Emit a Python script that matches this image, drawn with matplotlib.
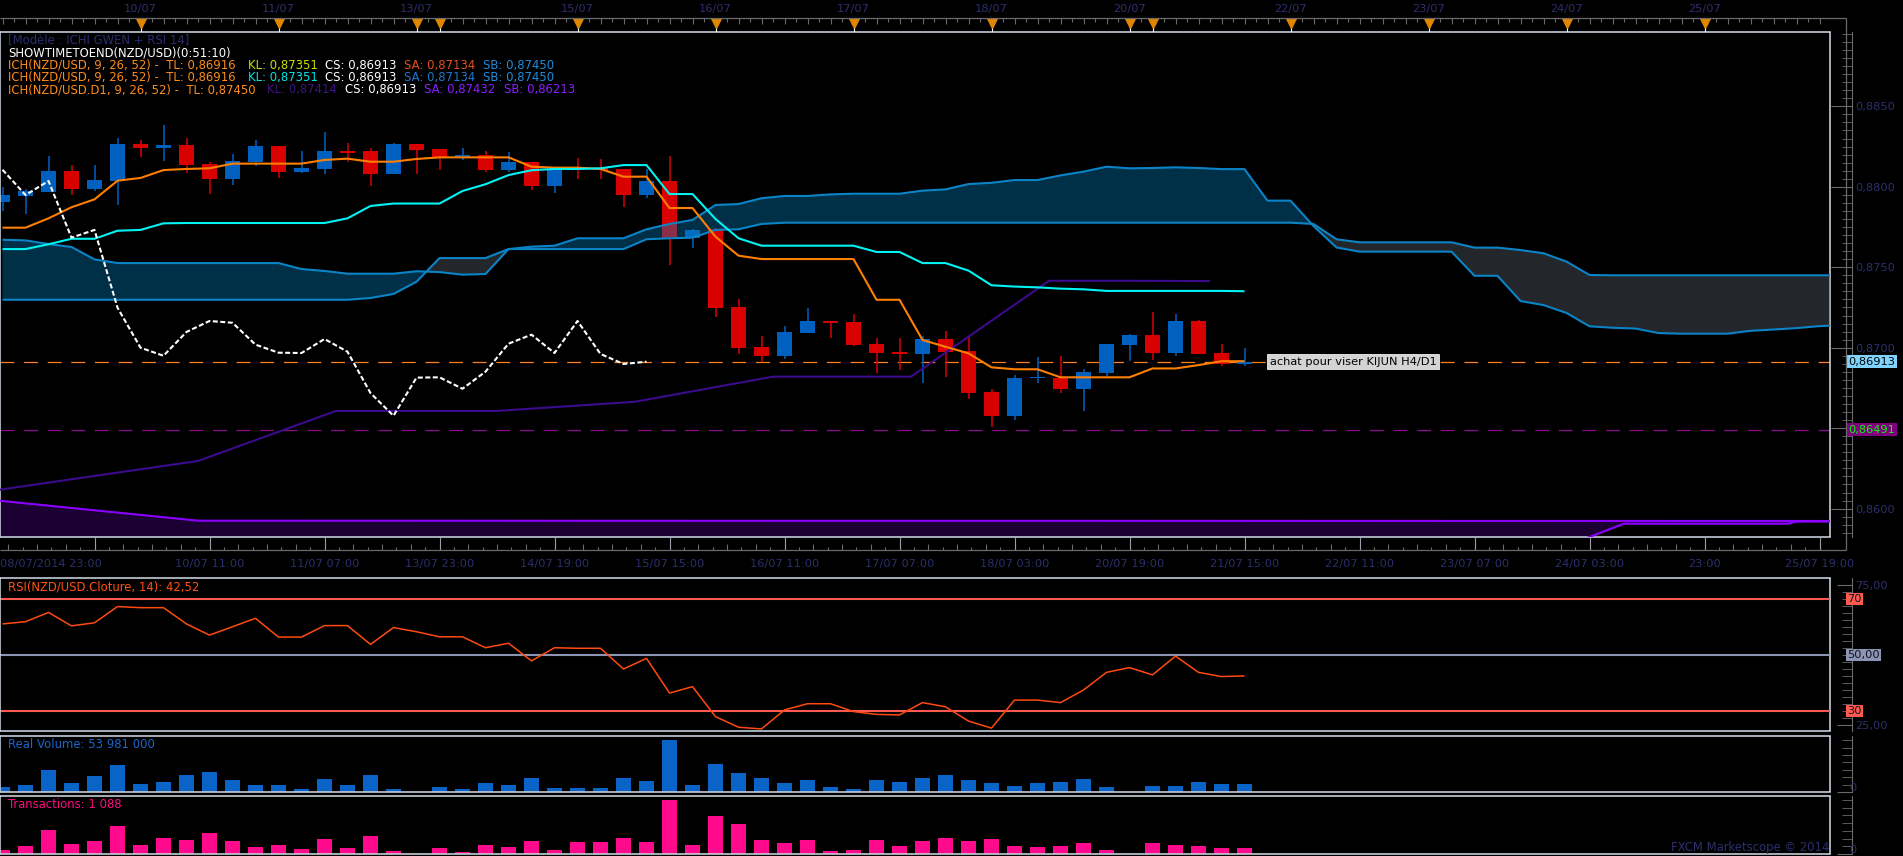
import numpy as np
import matplotlib
matplotlib.use("Agg")
import matplotlib.pyplot as plt
from matplotlib.lines import Line2D
from matplotlib.ticker import MultipleLocator, FixedLocator, FuncFormatter, NullFormatter

W, H = 1903, 856

# ---- data (H4 NZD/USD bars 08/07/2014 23:00 -> 21/07 15:00) ----
opens = [0.87907, 0.87945, 0.87970, 0.88098, 0.87986, 0.88038, 0.88266, 0.88243, 0.88260, 0.88142,
         0.88048, 0.88154, 0.88254, 0.88092, 0.88111, 0.88218, 0.88222, 0.88080, 0.88266, 0.88235,
         0.88185, 0.88198, 0.88104, 0.88154, 0.88005, 0.88110, 0.88110, 0.88111, 0.87949, 0.88036,
         0.87684, 0.87740, 0.87253, 0.87004, 0.86950, 0.87093, 0.87166, 0.87160, 0.87023, 0.86972,
         0.86963, 0.87054, 0.86979, 0.86724, 0.86577, 0.86814, 0.86814, 0.86745, 0.86845, 0.87019,
         0.87079, 0.86967, 0.87166, 0.86967, 0.86899]
highs = [0.87997, 0.87984, 0.88191, 0.88134, 0.88135, 0.88303, 0.88289, 0.88384, 0.88303, 0.88154,
         0.88204, 0.88291, 0.88256, 0.88222, 0.88341, 0.88274, 0.88241, 0.88270, 0.88268, 0.88237,
         0.88241, 0.88222, 0.88216, 0.88156, 0.88106, 0.88179, 0.88173, 0.88113, 0.88111, 0.88191,
         0.87740, 0.87742, 0.87303, 0.87073, 0.87135, 0.87247, 0.87168, 0.87209, 0.87060, 0.87060,
         0.87073, 0.87104, 0.87067, 0.86743, 0.86830, 0.86944, 0.86948, 0.86870, 0.87025, 0.87083,
         0.87222, 0.87209, 0.87172, 0.87023, 0.86998]
lows = [0.87851, 0.87833, 0.87965, 0.87951, 0.87976, 0.87889, 0.88185, 0.88160, 0.88088, 0.87955,
        0.88011, 0.88129, 0.88055, 0.88086, 0.88080, 0.88156, 0.88005, 0.88080, 0.88080, 0.88104,
        0.88167, 0.88092, 0.88092, 0.87980, 0.87961, 0.88048, 0.88048, 0.87874, 0.87930, 0.87514,
        0.87622, 0.87193, 0.86963, 0.86913, 0.86932, 0.87090, 0.87062, 0.87012, 0.86845, 0.86863,
        0.86782, 0.86820, 0.86683, 0.86509, 0.86553, 0.86782, 0.86720, 0.86608, 0.86826, 0.86919,
        0.86924, 0.86948, 0.86961, 0.86886, 0.86886]
closes = [0.87949, 0.87972, 0.88098, 0.87986, 0.88042, 0.88266, 0.88243, 0.88260, 0.88135, 0.88048,
          0.88160, 0.88254, 0.88092, 0.88117, 0.88222, 0.88214, 0.88080, 0.88266, 0.88229, 0.88185,
          0.88198, 0.88104, 0.88154, 0.88005, 0.88104, 0.88106, 0.88106, 0.87949, 0.88036, 0.87684,
          0.87732, 0.87249, 0.87000, 0.86950, 0.87098, 0.87166, 0.87155, 0.87019, 0.86969, 0.86967,
          0.87054, 0.86975, 0.86718, 0.86577, 0.86814, 0.86816, 0.86745, 0.86851, 0.87025, 0.87081,
          0.86967, 0.87166, 0.86961, 0.86899, 0.86913]

tenkan = [0.87746, 0.87746, 0.87804, 0.87873, 0.87922, 0.88038, 0.88055, 0.88104, 0.88111, 0.88115,
          0.88144, 0.88144, 0.88144, 0.88144, 0.88167, 0.88175, 0.88156, 0.88156, 0.88173, 0.88183,
          0.88183, 0.88183, 0.88183, 0.88125, 0.88119, 0.88119, 0.88111, 0.88063, 0.88063, 0.87868,
          0.87868, 0.87690, 0.87572, 0.87551, 0.87551, 0.87551, 0.87551, 0.87551, 0.87298, 0.87298,
          0.87048, 0.87006, 0.86965, 0.86878, 0.86866, 0.86866, 0.86816, 0.86816, 0.86816, 0.86816,
          0.86871, 0.86871, 0.86892, 0.86916, 0.86916]
kijun = [0.87613, 0.87613, 0.87643, 0.87677, 0.87677, 0.87727, 0.87732, 0.87773, 0.87775, 0.87775,
         0.87775, 0.87775, 0.87775, 0.87775, 0.87775, 0.87804, 0.87881, 0.87896, 0.87896, 0.87896,
         0.87974, 0.88016, 0.88073, 0.88103, 0.88111, 0.88111, 0.88115, 0.88135, 0.88135, 0.87955,
         0.87955, 0.87800, 0.87680, 0.87634, 0.87634, 0.87634, 0.87634, 0.87634, 0.87595, 0.87595,
         0.87526, 0.87526, 0.87479, 0.87388, 0.87380, 0.87375, 0.87367, 0.87363, 0.87353, 0.87353,
         0.87353, 0.87353, 0.87353, 0.87353, 0.87351]
# senkou spans, already displaced 26 bars forward (bars 0..80)
span_a = [0.87671, 0.87667, 0.87644, 0.87626, 0.87549, 0.87526, 0.87526, 0.87526, 0.87526, 0.87526,
          0.87526, 0.87526, 0.87526, 0.87489, 0.87477, 0.87460, 0.87460, 0.87460, 0.87475, 0.87470,
          0.87454, 0.87458, 0.87613, 0.87628, 0.87634, 0.87680, 0.87680, 0.87680, 0.87736, 0.87769,
          0.87794, 0.87887, 0.87893, 0.87929, 0.87943, 0.87943, 0.87953, 0.87957, 0.87957, 0.87957,
          0.87976, 0.87984, 0.88017, 0.88025, 0.88042, 0.88042, 0.88071, 0.88094, 0.88125, 0.88115,
          0.88117, 0.88121, 0.88117, 0.88110, 0.88110, 0.87914, 0.87914, 0.87756, 0.87623, 0.87597,
          0.87597, 0.87597, 0.87597, 0.87597, 0.87447, 0.87447, 0.87290, 0.87265, 0.87216, 0.87133,
          0.87124, 0.87119, 0.87091, 0.87087, 0.87087, 0.87087, 0.87105, 0.87113, 0.87122, 0.87134,
          0.87140]
span_b = [0.87298] * 16 + [0.87309, 0.87334, 0.87410, 0.87557, 0.87557, 0.87557, 0.87613] \
    + [0.87613] * 5 + [0.87674, 0.87680, 0.87684, 0.87732, 0.87736, 0.87769] + [0.87777] * 23 \
    + [0.87769, 0.87674] + [0.87655] * 5 + [0.87622, 0.87622, 0.87607, 0.87587, 0.87535, 0.87452] \
    + [0.87450] * 11

# D1 ichimoku, points at the middle of each trading day (bar units)
d1_kijun_x = [-3.5, 2.5, 8.5, 14.5, 18, 21.5, 27.5, 33.5, 39.5, 45.5, 49, 52.5]
d1_kijun = [0.86047, 0.86172, 0.86296, 0.86607, 0.86607, 0.86607, 0.86664, 0.86820, 0.86820,
            0.87416, 0.87416, 0.87414]
d1_up_x = [-3.5, 2.5, 8.5, 81]
d1_up = [0.86098, 0.86011, 0.85925, 0.85923]
d1_lo_x = [-3.5, 64.5, 70.5, 77.6, 78.0, 81]
d1_lo = [0.85500, 0.85576, 0.85906, 0.85906, 0.85919, 0.85919]

last_close = 0.86913
support = 0.86491

rsi = [61.1, 61.9, 65.2, 60.4, 61.5, 67.3, 66.9, 66.9, 61.1, 57.1,
       60.1, 63.1, 56.4, 56.4, 60.5, 60.5, 53.8, 59.8, 58.3, 56.5,
       56.5, 52.6, 54.2, 47.9, 52.6, 52.4, 52.4, 45.0, 48.8, 36.4,
       38.7, 28.0, 24.2, 23.6, 30.4, 32.6, 32.6, 29.8, 28.8, 28.6,
       33.0, 31.5, 26.4, 23.9, 33.9, 33.9, 33.0, 37.5, 43.8, 45.5,
       42.9, 49.6, 43.8, 42.3, 42.52]
volume_m = [34, 47, 148, 61, 108, 182, 54, 67, 115, 135,
            81, 47, 47, 20, 88, 47, 115, 20, 0, 34,
            20, 61, 47, 94, 27, 27, 27, 94, 74, 351,
            47, 189, 128, 94, 61, 81, 34, 20, 81, 67,
            94, 115, 81, 61, 40, 61, 67, 88, 34, 0,
            40, 40, 67, 54, 54]
transactions = [725, 1450, 4350, 1813, 2357, 5077, 1632, 2901, 2538, 3808,
                2357, 1269, 1632, 907, 2720, 1088, 3264, 544, 0, 1088,
                363, 1632, 1269, 2357, 725, 2176, 2176, 2901, 2176, 9792,
                1632, 6891, 5440, 2538, 1995, 2538, 544, 725, 2538, 1450,
                2357, 2901, 2357, 2720, 1450, 1269, 1450, 1995, 725, 0,
                1995, 1632, 1450, 1088, 1088]

bottom_ticks = list(range(4, 80, 5))
bottom_labels = ["08/07/2014 23:00", "10/07 11:00", "11/07 07:00", "13/07 23:00", "14/07 19:00",
                 "15/07 15:00", "16/07 11:00", "17/07 07:00", "18/07 03:00", "20/07 19:00",
                 "21/07 15:00", "22/07 11:00", "23/07 07:00", "24/07 03:00", "23:00", "25/07 19:00"]
day_bars = [6, 12, 18, 19, 25, 31, 37, 43, 49, 50, 56, 62, 68, 74]
day_labels = ["10/07", "11/07", "13/07", "", "15/07", "16/07", "17/07", "18/07", "20/07", "",
              "22/07", "23/07", "24/07", "25/07"]

# ---- style ----
BG = '#000000'
FRAME = '#c4ccd8'
AXC = '#6a6a6a'
LAB = '#2e2e6e'
RED = '#d90000'
BLUE = '#0060c0'

plt.rcParams['font.family'] = 'DejaVu Sans'
plt.rcParams['lines.scale_dashes'] = False
plt.rcParams['lines.solid_capstyle'] = 'butt'


def px_rect(x0, y0, x1, y1):
    return [x0 / W, 1 - y1 / H, (x1 - x0) / W, (y1 - y0) / H]


def fig_text(x, y, s, color, size=8.4, ha='left'):
    fig.text(x / W, 1 - y / H, s, color=color, fontsize=size, ha=ha, va='center', zorder=20)


fig = plt.figure(figsize=(W / 100, H / 100), dpi=100, facecolor=BG)
XL = (-2.5 / 23, (1830 - 2.5) / 23)

ax = fig.add_axes(px_rect(0, 31.7, 1830, 537))
ax_rsi = fig.add_axes(px_rect(0, 578.3, 1830, 731))
ax_vol = fig.add_axes(px_rect(0, 736, 1830, 792))
ax_trn = fig.add_axes(px_rect(0, 796, 1830, 854))
ax_top = fig.add_axes(px_rect(0, 18, 1830, 31.7))
ax_bot = fig.add_axes(px_rect(0, 537, 1830, 550))


def style_panel(a, major_len=15):
    a.set_facecolor(BG)
    a.set_xlim(*XL)
    a.set_xticks([])
    for s in ['top', 'left', 'bottom']:
        a.spines[s].set_color(FRAME)
        a.spines[s].set_linewidth(1.2)
    a.spines['right'].set_position(('outward', 16))
    a.spines['right'].set_color(AXC)
    a.plot([1, 1], [0, 1], transform=a.transAxes, color=FRAME, lw=1.2, clip_on=False)
    a.yaxis.tick_right()
    a.tick_params(axis='y', which='both', direction='in', colors=AXC, labelcolor=LAB,
                  labelsize=8.2, pad=2)
    a.tick_params(axis='y', which='major', length=major_len)
    a.tick_params(axis='y', which='minor', length=7)


for a in (ax, ax_rsi, ax_vol, ax_trn):
    style_panel(a)

# ---- main price panel ----
bars = np.arange(len(closes))
o, h, l, c = map(np.array, (opens, highs, lows, closes))
cols = np.where(c >= o, BLUE, RED)
diff = np.abs(c - o)
body_h = np.maximum(diff, 0.00012)
body_lo = np.minimum(o, c) - (body_h - diff) / 2
ax.vlines(bars, l, h, colors=cols, lw=1.1, zorder=2)
ax.bar(bars, body_h, bottom=body_lo, width=0.61, color=cols, linewidth=0, zorder=2.1)

cx = np.arange(len(span_a))
A = np.array(span_a)
B = np.array(span_b)
ax.fill_between(cx, A, B, where=A >= B, interpolate=True, color='#0085c8', alpha=0.36, lw=0, zorder=3)
ax.fill_between(cx, A, B, where=A < B, interpolate=True, color='#626a76', alpha=0.36, lw=0, zorder=3)
ax.plot(cx, A, color='#0a84c6', lw=1.5, zorder=4)
ax.plot(cx, B, color='#0a84c6', lw=1.5, zorder=4)

gx = np.linspace(-3.5, 81, 1200)
ax.fill_between(gx, np.interp(gx, d1_up_x, d1_up), np.interp(gx, d1_lo_x, d1_lo),
                color='#1c0034', lw=0, zorder=1)
ax.plot(d1_up_x, d1_up, color='#8c00ff', lw=1.5, zorder=4)
ax.plot(d1_lo_x, d1_lo, color='#8c00ff', lw=1.5, zorder=4)
ax.plot(d1_kijun_x, d1_kijun, color='#3c0a8c', lw=1.5, zorder=4)

ax.axhline(last_close, color='#ff7f1e', lw=0.9, dashes=(10, 7), zorder=1.5)
ax.axhline(support, color='#8a0a8a', lw=0.9, dashes=(10, 7), zorder=1.5)

ax.plot(bars, tenkan, color='#ff8000', lw=1.5, zorder=5)
ax.plot(bars, kijun, color='#00f4f4', lw=1.5, zorder=5)
chikou = closes[26:]
ax.plot(np.arange(len(chikou)), chikou, color='white', lw=1.5, dashes=(3.6, 1.8), zorder=5)

ax.set_ylim(0.858235, 0.88964)
ax.yaxis.set_major_locator(MultipleLocator(0.005))
ax.yaxis.set_minor_locator(MultipleLocator(0.0005))
ax.yaxis.set_major_formatter(FuncFormatter(
    lambda v, p: '' if abs(v - 0.865) < 1e-6 else f'{v:.4f}'.replace('.', ',')))

ax.text(55.1, last_close, 'achat pour viser KIJUN H4/D1', fontsize=8.2, color='black',
        ha='left', va='center', zorder=10,
        bbox=dict(boxstyle='square,pad=0.22', fc='#d4d4d4', ec='#eeeeee', lw=0.6))

for val, fc, tc in ((last_close, '#7fd4ff', 'black'), (support, '#800080', '#00ff00')):
    ax.annotate(f'{val:.5f}'.replace('.', ','), xy=(1, val), xycoords=('axes fraction', 'data'),
                xytext=(13.2, 0), textcoords='offset points', ha='left', va='center',
                fontsize=8.2, color=tc, annotation_clip=False, zorder=12,
                bbox=dict(boxstyle='square,pad=0.12', fc=fc, ec='none'))

# ---- RSI panel ----
ax_rsi.plot(bars, rsi, color='#ff4a10', lw=1.1, zorder=4)
ax_rsi.axhline(70, color='#ff5a50', lw=1.5, zorder=2)
ax_rsi.axhline(30, color='#ff5a50', lw=1.5, zorder=2)
ax_rsi.axhline(50, color='#8c96b4', lw=1.5, zorder=2)
ax_rsi.set_ylim(22.86, 77.39)
ax_rsi.yaxis.set_major_locator(FixedLocator([25, 75]))
ax_rsi.yaxis.set_minor_locator(MultipleLocator(2.5))
ax_rsi.yaxis.set_major_formatter(FuncFormatter(lambda v, p: f'{v:.2f}'.replace('.', ',')))
ax_rsi.tick_params(axis='y', which='major', length=11)
for val, txt, fc in ((70, '70', '#ff5a50'), (50, '50,00', '#8c96b4'), (30, '30', '#ff5a50')):
    ax_rsi.annotate(txt, xy=(1, val), xycoords=('axes fraction', 'data'),
                    xytext=(12.4, 0), textcoords='offset points', ha='left', va='center',
                    fontsize=8.2, color='#101020', annotation_clip=False, zorder=12,
                    bbox=dict(boxstyle='square,pad=0.1', fc=fc, ec='none'))

# ---- volume / transactions ----
ax_vol.bar(bars, volume_m, width=0.61, color='#0a64c8', linewidth=0)
ax_vol.set_ylim(0, 378)
ax_vol.yaxis.set_minor_locator(MultipleLocator(50))

ax_trn.bar(bars, transactions, width=0.61, color='#ff0a8c', linewidth=0)
ax_trn.set_ylim(0, 10517)
ax_trn.yaxis.set_minor_locator(MultipleLocator(1400))
for a in (ax_vol, ax_trn):
    a.yaxis.set_major_locator(FixedLocator([0]))
    a.yaxis.set_major_formatter(NullFormatter())
    a.yaxis.set_minor_formatter(NullFormatter())
    a.tick_params(axis='y', which='major', length=11)
    a.annotate('0', xy=(1, 0), xycoords='axes fraction', xytext=(13.5, 3.2),
               textcoords='offset points', ha='left', va='center', fontsize=8.2,
               color=LAB, annotation_clip=False)

# ---- top date band ----
for a in (ax_top, ax_bot):
    a.set_facecolor('none')
    a.set_xlim(*XL)
    a.set_ylim(0, 1)
    a.set_xticks([])
    a.set_yticks([])
    for s in a.spines.values():
        s.set_visible(False)

half = np.arange(0, 80, 0.5)
ax_top.vlines(half, 1 - np.where(np.arange(len(half)) % 2 == 0, 0.42, 0.28), 1,
              colors=AXC, lw=0.8)
ax_top.plot(day_bars, [0.62] * len(day_bars), ls='none', marker='v', ms=7,
            color='#e08600', mec='#e08600')
ax_top.vlines(day_bars, 0, 0.26, colors='white', lw=0.8)
for b, txt in zip(day_bars, day_labels):
    if txt:
        ax_top.annotate(txt, xy=(b, 1), xycoords=('data', 'axes fraction'), xytext=(0, 6.5),
                        textcoords='offset points', ha='center', va='center', fontsize=8.2,
                        color=LAB, annotation_clip=False)

# ---- bottom time band ----
minor_b = np.arange(4 - 5, 80, 5 / 8)
ax_bot.vlines(minor_b, 0, np.where(np.arange(len(minor_b)) % 2 == 0, 0.45, 0.25),
              colors=AXC, lw=0.8)
ax_bot.vlines(bottom_ticks, 0, 1, colors='#9a9aa8', lw=0.8)
for i, (b, txt) in enumerate(zip(bottom_ticks, bottom_labels)):
    x = XL[0] if i == 0 else b
    ax_bot.annotate(txt, xy=(x, 0), xycoords=('data', 'axes fraction'), xytext=(0, -10),
                    textcoords='offset points', ha='left' if i == 0 else 'center', va='center',
                    fontsize=8.2, color=LAB, annotation_clip=False)

# axis lines of the outer frame
for xs, ys in (((1846, 1846), (18, 550)), ((0, 1846), (18, 18)), ((0, 1846), (550, 550))):
    fig.add_artist(Line2D([v / W for v in xs], [1 - v / H for v in ys], color=AXC, lw=0.9))

# ---- header texts ----
ORANGE = '#ff8c1a'
fig_text(8, 39.3, '[Modèle : ICHI GWEN + RSI 14]', '#2c2c70')
fig_text(8, 52.7, 'SHOWTIMETOEND(NZD/USD)(0:51:10)', 'white')
fig_text(8, 65, 'ICH(NZD/USD, 9, 26, 52) -  TL: 0,86916', ORANGE)
fig_text(248, 65, 'KL: 0,87351', '#c8e000')
fig_text(325, 65, 'CS: 0,86913', 'white')
fig_text(404, 65, 'SA: 0,87134', '#e0501e')
fig_text(483, 65, 'SB: 0,87450', '#1e8cdc')
fig_text(8, 77.3, 'ICH(NZD/USD, 9, 26, 52) -  TL: 0,86916', ORANGE)
fig_text(248, 77.3, 'KL: 0,87351', '#00e4e4')
fig_text(325, 77.3, 'CS: 0,86913', 'white')
fig_text(404, 77.3, 'SA: 0,87134', '#1e78c8')
fig_text(483, 77.3, 'SB: 0,87450', '#1e8cdc')
fig_text(8, 90, 'ICH(NZD/USD.D1, 9, 26, 52) -  TL: 0,87450', ORANGE)
fig_text(267, 90, 'KL: 0,87414', '#3c1480')
fig_text(345, 90, 'CS: 0,86913', 'white')
fig_text(424, 90, 'SA: 0,87432', '#8c1eff')
fig_text(504, 90, 'SB: 0,86213', '#8c1eff')

fig_text(8, 586.7, 'RSI(NZD/USD.Cloture, 14): 42,52', '#ff5014')
fig_text(8, 744, 'Real Volume: 53 981 000', '#1e64c8')
fig_text(8, 804, 'Transactions: 1 088', '#ff0a82')
fig_text(1829, 847.5, 'FXCM Marketscope © 2014', '#2e2e6e', size=8.4, ha='right')

fig.savefig('out.png', dpi=100, facecolor=BG)
